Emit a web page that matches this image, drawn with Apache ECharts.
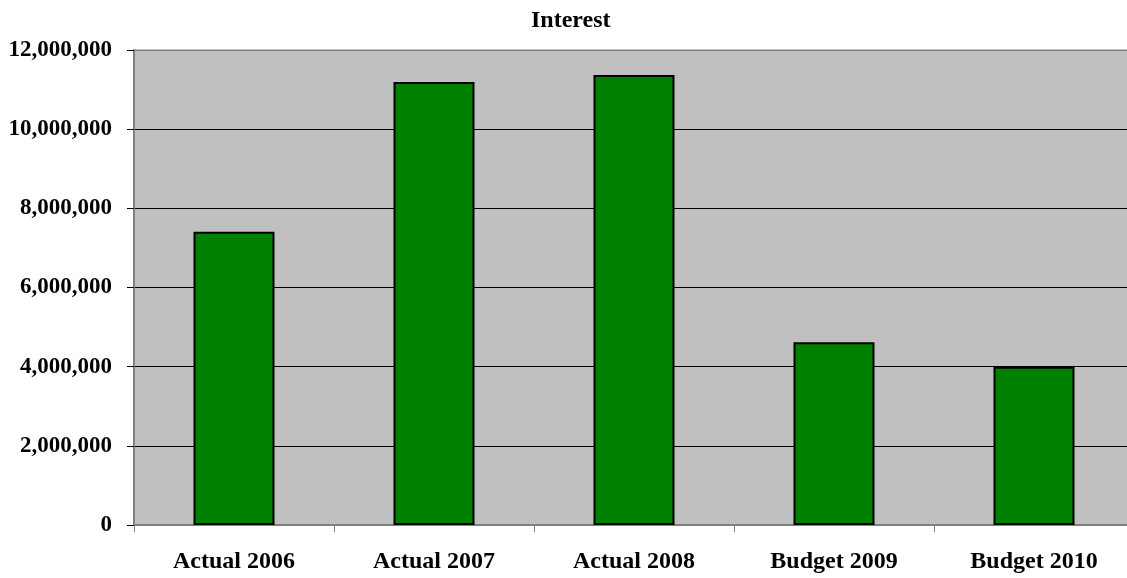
<!DOCTYPE html>
<html>
<head>
<meta charset="utf-8">
<script src="https://cdn.jsdelivr.net/npm/echarts@6/dist/echarts.min.js"></script>
<style>
html,body{margin:0;padding:0;background:#fff;overflow:hidden;width:1127px;height:578px;}
#c{width:1134px;height:578px;}
</style>
</head>
<body>
<div id="c"></div>
<script>
const titleText = "Interest";
const categories = ["Actual 2006", "Actual 2007", "Actual 2008", "Budget 2009", "Budget 2010"];
const interest = [7410000, 11190000, 11370000, 4620000, 4000000];
const yMin = 0, yMax = 12000000, yStep = 2000000;

const font = "'Liberation Serif', 'Times New Roman', serif";
const chart = echarts.init(document.getElementById('c'), null, {renderer: 'canvas'});
chart.setOption({
  animation: false,
  backgroundColor: '#ffffff',
  title: {
    text: titleText,
    left: 526,
    top: 4,
    textStyle: {fontFamily: font, fontWeight: 'bold', fontSize: 24, color: '#000'}
  },
  grid: {
    left: 134, right: 0, top: 50, bottom: 53,
    show: true,
    backgroundColor: '#c0c0c0',
    borderColor: '#808080',
    borderWidth: 1
  },
  xAxis: {
    type: 'category',
    data: categories,
    axisLine: {show: true, lineStyle: {color: '#808080', width: 2}},
    axisTick: {show: true, length: 7, lineStyle: {color: '#808080', width: 1}},
    axisLabel: {margin: 25, fontFamily: font, fontWeight: 'bold', fontSize: 24, color: '#000'},
    splitLine: {show: false}
  },
  yAxis: {
    type: 'value',
    min: yMin, max: yMax, interval: yStep,
    axisLine: {show: true, lineStyle: {color: '#808080', width: 2}},
    axisTick: {show: true, length: 7, lineStyle: {color: '#000', width: 1}},
    axisLabel: {
      margin: 22, fontFamily: font, fontWeight: 'bold', fontSize: 23, color: '#000',
      formatter: v => v.toLocaleString('en-US')
    },
    splitLine: {show: true, lineStyle: {color: ['#808080', '#000', '#000', '#000', '#000', '#000', '#808080'], width: 1}}
  },
  series: [{
    type: 'bar',
    data: interest,
    barWidth: 81,
    itemStyle: {color: '#008000', borderColor: '#000', borderWidth: 2}
  }]
});
</script>
</body>
</html>
